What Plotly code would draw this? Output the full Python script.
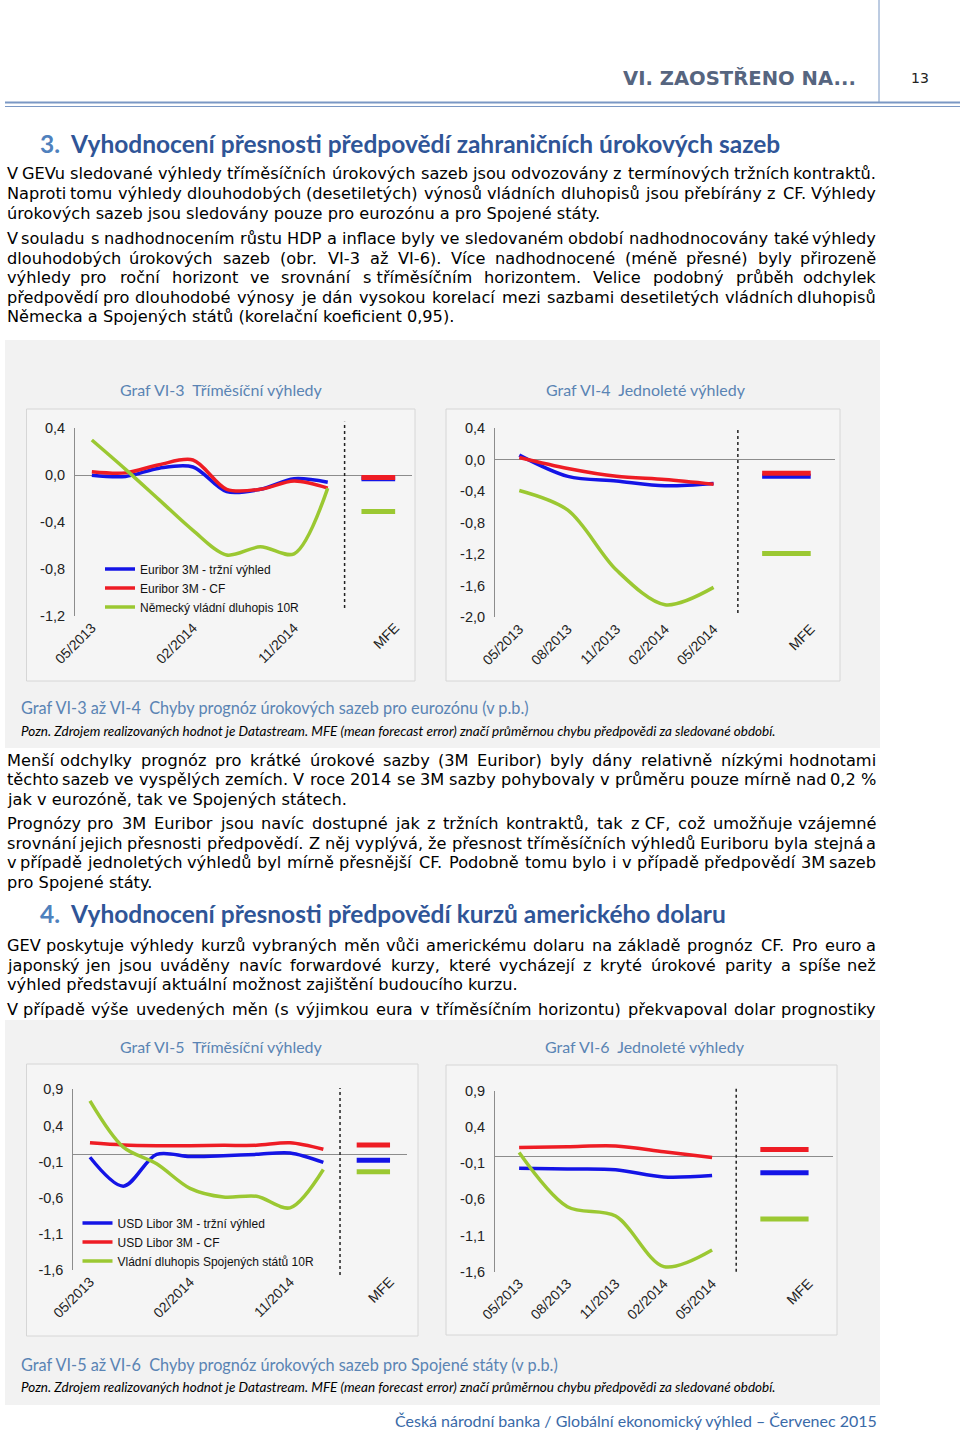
import unicodedata
import plotly.graph_objects as go

W, H = 960, 1432

# ---------------- data ----------------
cat_3m = ["05/2013", "08/2013", "11/2013", "02/2014", "05/2014", "08/2014", "11/2014", "02/2015"]
cat_1y = ["05/2013", "08/2013", "11/2013", "02/2014", "05/2014"]

# Graf VI-3 (eurozone, 3M horizon)
ez3_euribor_mkt = [0.00, -0.01, 0.06, 0.07, -0.14, -0.12, -0.03, -0.06]
ez3_euribor_cf = [0.03, 0.02, 0.09, 0.13, -0.12, -0.12, -0.05, -0.11]
ez3_bund10 = [0.30, 0.05, -0.21, -0.47, -0.68, -0.61, -0.67, -0.11]
ez3_mfe = {"mkt": -0.03, "cf": -0.02, "bond": -0.31}

# Graf VI-4 (eurozone, 1Y horizon)
ez1_euribor_mkt = [0.06, -0.21, -0.27, -0.33, -0.30]
ez1_euribor_cf = [0.03, -0.11, -0.21, -0.25, -0.31]
ez1_bund10 = [-0.39, -0.64, -1.40, -1.84, -1.62]
ez1_mfe = {"mkt": -0.21, "cf": -0.17, "bond": -1.19}

# Graf VI-5 (USA, 3M horizon)
us3_libor_mkt = [-0.04, -0.44, 0.00, -0.03, -0.02, 0.00, 0.02, -0.11]
us3_libor_cf = [0.16, 0.13, 0.12, 0.12, 0.125, 0.125, 0.16, 0.07]
us3_ust10 = [0.74, 0.10, -0.13, -0.47, -0.59, -0.58, -0.74, -0.21]
us3_mfe = {"mkt": -0.08, "cf": 0.13, "bond": -0.24}

# Graf VI-6 (USA, 1Y horizon)
us1_libor_mkt = [-0.17, -0.18, -0.19, -0.29, -0.27]
us1_libor_cf = [0.12, 0.13, 0.14, 0.06, -0.02]
us1_ust10 = [0.05, -0.70, -0.83, -1.53, -1.30]
us1_mfe = {"mkt": -0.23, "cf": 0.09, "bond": -0.87}

ez_names = ["Euribor 3M - tržní výhled", "Euribor 3M - CF", "Německý vládní dluhopis 10R"]
us_names = ["USD Libor 3M - tržní výhled", "USD Libor 3M - CF", "Vládní dluhopis Spojených států 10R"]

yt_ez3 = [0.4, 0.0, -0.4, -0.8, -1.2]
yt_ez3_txt = ["0,4", "0,0", "-0,4", "-0,8", "-1,2"]
yt_ez1 = [0.4, 0.0, -0.4, -0.8, -1.2, -1.6, -2.0]
yt_ez1_txt = ["0,4", "0,0", "-0,4", "-0,8", "-1,2", "-1,6", "-2,0"]
yt_us = [0.9, 0.4, -0.1, -0.6, -1.1, -1.6]
yt_us_txt = ["0,9", "0,4", "-0,1", "-0,6", "-1,1", "-1,6"]

# ---------------- text ----------------
header_right = "VI. ZAOSTŘENO NA..."
page_no = "13"
sec3_title = "Vyhodnocení přesnosti předpovědí zahraničních úrokových sazeb"
sec4_title = "Vyhodnocení přesnosti předpovědí kurzů amerického dolaru"
para1 = [
    "V GEVu sledované výhledy tříměsíčních úrokových sazeb jsou odvozovány z termínových tržních kontraktů.",
    "Naproti tomu výhledy dlouhodobých (desetiletých) výnosů vládních dluhopisů jsou přebírány z CF. Výhledy",
    "úrokových sazeb jsou sledovány pouze pro eurozónu a pro Spojené státy.",
]
para2 = [
    "V souladu s nadhodnocením růstu HDP a inflace byly ve sledovaném období nadhodnocovány také výhledy",
    "dlouhodobých úrokových sazeb (obr. VI-3 až VI-6). Více nadhodnocené (méně přesné) byly přirozeně",
    "výhledy pro roční horizont ve srovnání s\u00a0tříměsíčním horizontem. Velice podobný průběh odchylek",
    "předpovědí pro dlouhodobé výnosy je dán vysokou korelací mezi sazbami desetiletých vládních dluhopisů",
    "Německa a Spojených států (korelační koeficient 0,95).",
]
para3 = [
    "Menší odchylky prognóz pro krátké úrokové sazby (3M Euribor) byly dány relativně nízkými hodnotami",
    "těchto sazeb ve vyspělých zemích. V roce 2014 se 3M sazby pohybovaly v průměru pouze mírně nad 0,2\u00a0%",
    "jak v eurozóně, tak ve Spojených státech.",
]
para4 = [
    "Prognózy pro 3M Euribor jsou navíc dostupné jak z tržních kontraktů, tak z\u00a0CF, což umožňuje vzájemné",
    "srovnání jejich přesnosti předpovědí. Z něj vyplývá, že přesnost tříměsíčních výhledů Euriboru byla stejná a",
    "v případě jednoletých výhledů byl mírně přesnější CF. Podobně tomu bylo i v případě předpovědí 3M sazeb",
    "pro Spojené státy.",
]
para5 = [
    "GEV poskytuje výhledy kurzů vybraných měn vůči americkému dolaru na základě prognóz CF. Pro euro a",
    "japonský jen jsou uváděny navíc forwardové kurzy, které vycházejí z kryté úrokové parity a spíše než",
    "výhled představují aktuální možnost zajištění budoucího kurzu.",
]
para6 = [
    "V případě výše uvedených měn (s výjimkou eura v tříměsíčním horizontu) překvapoval dolar prognostiky",
]
title_vi3 = "Graf VI-3\u00a0 Tříměsíční výhledy"
title_vi4 = "Graf VI-4\u00a0 Jednoleté výhledy"
title_vi5 = "Graf VI-5\u00a0 Tříměsíční výhledy"
title_vi6 = "Graf VI-6\u00a0 Jednoleté výhledy"
cap_ez = "Graf VI-3 až VI-4\u00a0 Chyby prognóz úrokových sazeb pro eurozónu (v p.b.)"
cap_us = "Graf VI-5 až VI-6\u00a0 Chyby prognóz úrokových sazeb pro Spojené státy (v p.b.)"
note = "Pozn. Zdrojem realizovaných hodnot je Datastream. MFE (mean forecast error) značí průměrnou chybu předpovědi za sledované období."
footer = "Česká národní banka / Globální ekonomický výhled \u2013 Červenec 2015"

# ---------------- styles ----------------
BLUE = "#1414e6"
RED = "#ee1c24"
GREEN = "#9bc832"
AXC = "#8c8c8c"
BODY_FONT = "DejaVu Sans"
CAL = "Lato"
CH_FONT = "Liberation Sans"
CAP_BLUE = "#5a84b4"
HEAD_BLUE = "#2f5597"

# approximate DejaVu Sans advance widths (em) used to justify body text
CW = {" ": 0.318, "\u00a0": 0.318, "a": 0.613, "b": 0.635, "c": 0.550, "d": 0.635, "e": 0.615, "f": 0.352,
      "g": 0.635, "h": 0.634, "i": 0.278, "j": 0.278, "k": 0.579, "l": 0.278, "m": 0.974, "n": 0.634,
      "o": 0.612, "p": 0.635, "q": 0.635, "r": 0.411, "s": 0.521, "t": 0.392, "u": 0.634, "v": 0.592,
      "w": 0.818, "x": 0.592, "y": 0.592, "z": 0.525, "A": 0.684, "B": 0.686, "C": 0.698, "D": 0.770,
      "E": 0.632, "F": 0.575, "G": 0.775, "H": 0.752, "I": 0.295, "J": 0.295, "K": 0.656, "L": 0.557,
      "M": 0.863, "N": 0.748, "O": 0.787, "P": 0.603, "R": 0.695, "S": 0.635, "T": 0.611, "U": 0.732,
      "V": 0.684, "W": 0.989, "X": 0.685, "Y": 0.611, "Z": 0.685, ".": 0.318, ",": 0.318, "(": 0.390,
      ")": 0.390, "-": 0.361, "%": 0.950, "/": 0.337}
for d in "0123456789":
    CW[d] = 0.636


def X(px):
    return px / W


def Y(py):
    return 1 - py / H


def raw_w(s):
    tot = 0.0
    for ch in s:
        base = unicodedata.normalize("NFD", ch)[0]
        tot += CW.get(base, 0.6)
    return tot


fig = go.Figure()

panels = {
    1: dict(l=75, r=412, t=428.3, b=616.0, yr=[-1.2, 0.4], yt=(yt_ez3, yt_ez3_txt), cats=cat_3m, step=3,
            series=(ez3_euribor_mkt, ez3_euribor_cf, ez3_bund10), mfe=ez3_mfe, names=ez_names, legend="legend",
            sep=(421.7, 608)),
    2: dict(l=495, r=835, t=428.3, b=617.3, yr=[-2.0, 0.4], yt=(yt_ez1, yt_ez1_txt), cats=cat_1y, step=1,
            series=(ez1_euribor_mkt, ez1_euribor_cf, ez1_bund10), mfe=ez1_mfe, names=ez_names, legend=None,
            sep=(428, 613)),
    3: dict(l=73.3, r=406.7, t=1089.3, b=1270.0, yr=[-1.6, 0.9], yt=(yt_us, yt_us_txt), cats=cat_3m, step=3,
            series=(us3_libor_mkt, us3_libor_cf, us3_ust10), mfe=us3_mfe, names=us_names, legend="legend2",
            sep=(1088, 1275)),
    4: dict(l=495, r=832.7, t=1091.0, b=1271.7, yr=[-1.6, 0.9], yt=(yt_us, yt_us_txt), cats=cat_1y, step=1,
            series=(us1_libor_mkt, us1_libor_cf, us1_ust10), mfe=us1_mfe, names=us_names, legend=None,
            sep=(1086.7, 1271.7)),
}

shapes = []
annotations = []

# page background panels
shapes.append(dict(type="rect", xref="paper", yref="paper", x0=X(5), x1=X(880), y0=Y(748), y1=Y(340),
                   fillcolor="#f2f2f2", line=dict(width=0), layer="below"))
shapes.append(dict(type="rect", xref="paper", yref="paper", x0=X(5), x1=X(880), y0=Y(1405), y1=Y(1020),
                   fillcolor="#f2f2f2", line=dict(width=0), layer="below"))
for (l, r, t, b) in [(26.5, 415, 409, 681), (446, 840, 409, 681), (26.5, 418, 1064, 1336), (446, 837, 1065, 1335)]:
    shapes.append(dict(type="rect", xref="paper", yref="paper", x0=X(l), x1=X(r), y0=Y(b), y1=Y(t),
                       fillcolor="#f5f5f5", line=dict(color="#d6d6d6", width=1), layer="below"))

# header lines
shapes.append(dict(type="line", xref="paper", yref="paper", x0=X(879), x1=X(879), y0=Y(102), y1=Y(0),
                   line=dict(color="#7b98c4", width=1)))
shapes.append(dict(type="line", xref="paper", yref="paper", x0=X(5), x1=X(960), y0=Y(102.5), y1=Y(102.5),
                   line=dict(color="#7b98c4", width=2)))
shapes.append(dict(type="line", xref="paper", yref="paper", x0=X(5), x1=X(960), y0=Y(106.5), y1=Y(106.5),
                   line=dict(color="#7b98c4", width=1)))

for k, p in panels.items():
    xa = "x" if k == 1 else f"x{k}"
    ya = "y" if k == 1 else f"y{k}"
    n = len(p["cats"])
    xs = list(range(n))
    mfe_x = [n, n + 1]
    colors = [BLUE, RED, GREEN]
    for vals, col, nm in zip(p["series"], colors, p["names"]):
        tr = dict(x=xs, y=vals, mode="lines", name=nm, xaxis=xa, yaxis=ya,
                  line=dict(color=col, width=3.5, shape="spline", smoothing=0.9),
                  showlegend=p["legend"] is not None, hoverinfo="skip")
        if p["legend"]:
            tr["legend"] = p["legend"]
        fig.add_trace(go.Scatter(**tr))
    for key, col in [("bond", GREEN), ("mkt", BLUE), ("cf", RED)]:
        fig.add_trace(go.Scatter(x=mfe_x, y=[p["mfe"][key]] * 2, mode="lines", xaxis=xa, yaxis=ya,
                                 line=dict(color=col, width=5), showlegend=False, hoverinfo="skip"))
    tickvals = list(range(0, n, p["step"])) + [n + 1]
    ticktext = [p["cats"][i] for i in range(0, n, p["step"])] + ["MFE"]
    xkey = "xaxis" if k == 1 else f"xaxis{k}"
    ykey = "yaxis" if k == 1 else f"yaxis{k}"
    fig.update_layout(**{
        xkey: dict(domain=[X(p["l"]), X(p["r"])], range=[-0.5, n + 1.5], anchor=ya, automargin=False,
                   showgrid=False, zeroline=False, showline=False, tickvals=tickvals, ticktext=ticktext,
                   tickangle=-45, tickfont=dict(family=CH_FONT, size=14, color="#222"), ticks="",
                   fixedrange=True),
        ykey: dict(domain=[Y(p["b"]), Y(p["t"])], range=p["yr"], anchor=xa, showgrid=False, automargin=False,
                   zeroline=True, zerolinecolor=AXC, zerolinewidth=1, showline=True, linecolor=AXC,
                   linewidth=1, tickvals=p["yt"][0], ticktext=p["yt"][1], ticks="",
                   tickfont=dict(family=CH_FONT, size=14.5, color="#222"), ticklabelstandoff=6,
                   fixedrange=True),
    })
    shapes.append(dict(type="line", xref=xa, yref="paper", x0=n - 0.5, x1=n - 0.5,
                       y0=Y(p["sep"][1]), y1=Y(p["sep"][0]),
                       line=dict(color="#222", width=1.5, dash="dot")))


def txt(x, y, s, size, color="#000", family=BODY_FONT, anchor="left", bold=False, italic=False):
    if bold:
        s = f"<b>{s}</b>"
    if italic:
        s = f"<i>{s}</i>"
    annotations.append(dict(xref="paper", yref="paper", x=X(x), y=Y(y), text=s, showarrow=False,
                            xanchor=anchor, yanchor="middle", align=anchor,
                            font=dict(family=family, size=size, color=color)))


txt(858, 78, header_right, 19.6, color="#56657f", anchor="right", bold=True)
txt(920, 78, page_no, 14, color="#222", anchor="center")

txt(38, 143, "3.", 24.5, color="#4f81bd", family=CAL, bold=True)
txt(68, 143, sec3_title, 24.5, color=HEAD_BLUE, family=CAL, bold=True)

BODY = 16.2
LEFT, RIGHT = 5, 878
# calibrate width estimate against the rendered width of the first body line (~870 px)
K = 870.0 / (raw_w(para1[0]) * BODY)


def body_line(y, line, justify):
    if not justify:
        txt(LEFT, y, line, BODY)
        return
    words = line.split(" ")
    ws = [raw_w(wd) * BODY * K for wd in words]
    n = len(words)
    gap = (RIGHT - LEFT - sum(ws)) / (n - 1)
    for i, wd in enumerate(words):
        if i == 0:
            txt(LEFT, y, wd, BODY, anchor="left")
        elif i == n - 1:
            txt(RIGHT, y, wd, BODY, anchor="right")
        else:
            cx = LEFT + sum(ws[:i]) + gap * i + ws[i] / 2
            txt(cx, y, wd, BODY, anchor="center")


for lines, y0, last_justified in [(para1, 174, False), (para2, 238.5, False), (para3, 760, False),
                                  (para4, 823.5, False), (para5, 945.5, False), (para6, 1009.5, True)]:
    for i, ln in enumerate(lines):
        is_last = i == len(lines) - 1
        body_line(y0 + i * 19.6, ln, justify=(not is_last) or last_justified)

txt(38, 913, "4.", 24.5, color="#4f81bd", family=CAL, bold=True)
txt(68, 913, sec4_title, 24.5, color=HEAD_BLUE, family=CAL, bold=True)

txt(221, 390, title_vi3, 16, color=CAP_BLUE, family=CAL, anchor="center")
txt(646, 390, title_vi4, 16, color=CAP_BLUE, family=CAL, anchor="center")
txt(221, 1046, title_vi5, 16, color=CAP_BLUE, family=CAL, anchor="center")
txt(645, 1046, title_vi6, 16, color=CAP_BLUE, family=CAL, anchor="center")
txt(19, 708, cap_ez, 16.3, color=CAP_BLUE, family=CAL)
txt(19, 731, note, 13.5, color="#000", family=CAL, italic=True)
txt(19, 1364, cap_us, 16.3, color=CAP_BLUE, family=CAL)
txt(19, 1387, note, 13.5, color="#000", family=CAL, italic=True)
txt(879, 1420, footer, 16, color="#3a6aa8", family=CAL, anchor="right")

leg_common = dict(bgcolor="rgba(0,0,0,0)", font=dict(family=CH_FONT, size=12, color="#111"),
                  xanchor="left", yanchor="top", tracegroupgap=0, itemwidth=30, traceorder="normal")

fig.update_layout(
    width=W, height=H, margin=dict(l=0, r=0, t=0, b=0, autoexpand=False),
    paper_bgcolor="white", plot_bgcolor="rgba(0,0,0,0)",
    shapes=shapes, annotations=annotations,
    legend=dict(x=X(100), y=Y(554.5), **leg_common),
    legend2=dict(x=X(77.5), y=Y(1208.5), **leg_common),
    hovermode=False,
)

fig.write_html("out.html", config={"displayModeBar": False},
               post_script="document.body.style.margin='0';")
